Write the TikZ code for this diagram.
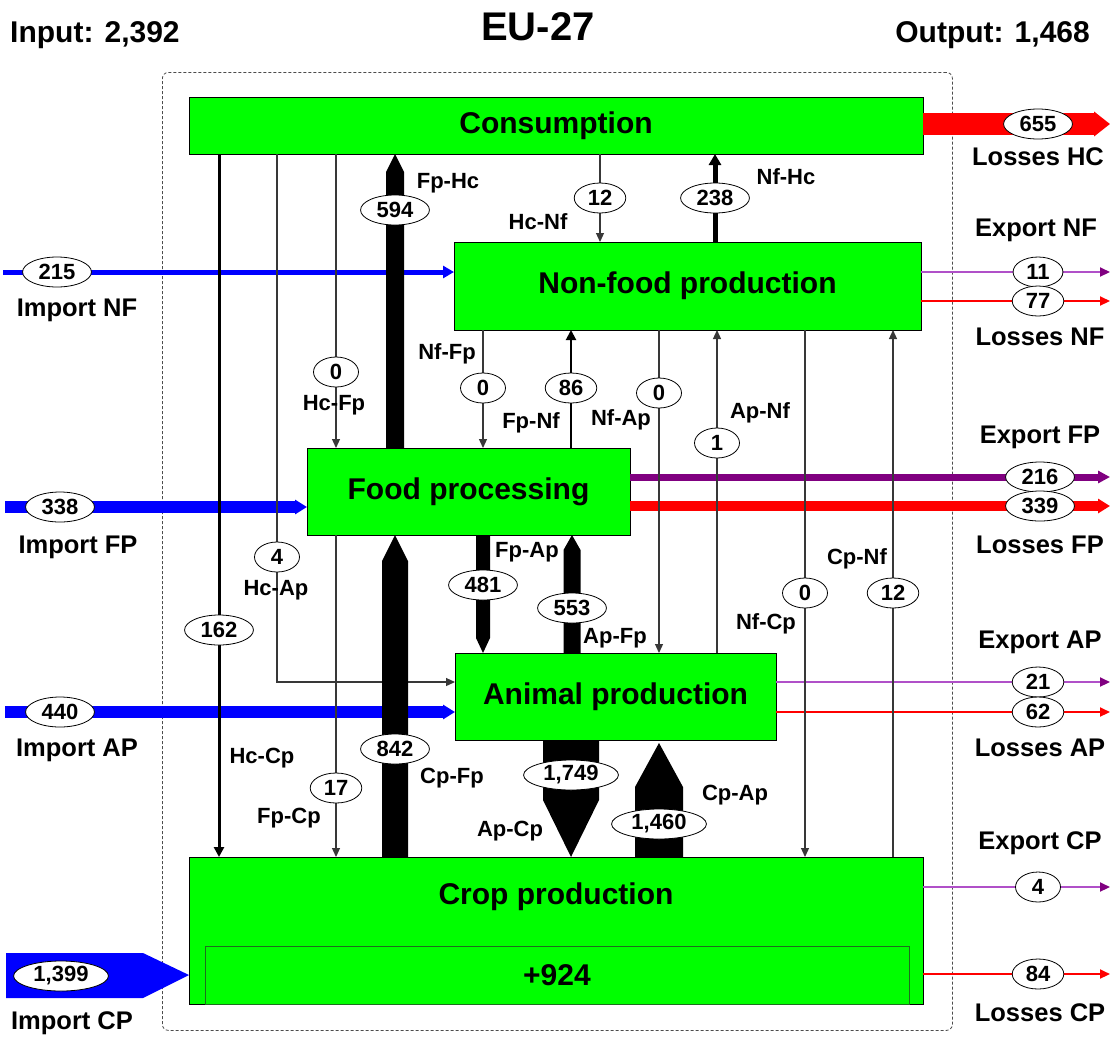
\documentclass[tikz,border=0pt]{standalone}
\usepackage{fontspec}
\setmainfont{Liberation Sans}
\usetikzlibrary{arrows.meta,shapes.geometric,calc}
\definecolor{boxgreen}{HTML}{00FF00}
\definecolor{flowblue}{HTML}{0000FF}
\definecolor{flowred}{HTML}{FF0000}
\definecolor{lightpurple}{HTML}{B050C8}
\definecolor{darkpurple}{HTML}{800080}
\definecolor{linegray}{HTML}{383838}
\definecolor{innergreen}{HTML}{1E6E1E}
\begin{document}
\begin{tikzpicture}[x=1pt,y=-1pt,
  box/.style={draw=black, line width=1pt, fill=boxgreen, inner sep=0pt, outer sep=0pt, anchor=north west, font=\fontsize{30}{34}\selectfont\bfseries},
  boxtxt/.style={font=\fontsize{30}{34}\selectfont\bfseries, inner sep=0pt},
  val/.style={ellipse, draw=black, line width=0.8pt, fill=white, inner xsep=6pt, inner ysep=0pt, minimum height=30pt, minimum width=45pt, font=\fontsize{22}{25}\selectfont\bfseries},
  flowlab/.style={font=\fontsize{22}{25}\selectfont\bfseries, inner sep=0pt},
  sidelab/.style={font=\fontsize{25.5}{30}\selectfont\bfseries, inner sep=0pt},
  titlelab/.style={font=\fontsize{30}{34}\selectfont\bfseries, inner sep=0pt},
  thinflow/.style={draw=linegray, line width=1.2pt, -{Triangle[length=9pt,width=8pt]}},
  blackflow/.style={draw=black, -{Triangle[length=10pt,width=10pt]}},
  thinexport/.style={draw=lightpurple, line width=2pt, -{Triangle[length=10pt,width=9pt,color=darkpurple]}},
  thinloss/.style={draw=flowred, line width=2pt, -{Triangle[length=10pt,width=9pt]}},
  block/.style={fill=black}
]
\useasboundingbox (0,0) rectangle (1113,1037);

% titles
\node[titlelab, anchor=west] (input) at (10,35) {Input: 2,392};
\node[font=\fontsize{40}{44}\selectfont\bfseries, inner sep=0pt] (title) at (538,27) {EU-27};
\node[titlelab, anchor=east] (output) at (1090,35) {Output: 1,468};

% dashed frame
\node[draw=black!70, line width=0.8pt, dash pattern=on 3pt off 2pt, rounded corners=6pt,
      minimum width=790pt, minimum height=958pt, anchor=north west, inner sep=0pt] (frame) at (162,72) {};

% boxes
\node[box, minimum width=734pt, minimum height=57pt] (cons) at (189,97) {Consumption};
\node[box, minimum width=467pt, minimum height=88pt] (nonfood) at (454,242) {Non-food production};
\node[box, minimum width=323pt, minimum height=87pt] (foodp) at (307,448) {Food processing};
\node[box, minimum width=321pt, minimum height=87pt] (animal) at (455,653) {Animal production};
\node[box, minimum width=734pt, minimum height=147pt] (crop) at (189,857) {};
\node[box, draw=innergreen, line width=0.8pt, minimum width=704pt, minimum height=58pt] (gain) at (205,946) {+924};
\node[boxtxt] (cropT) at (556,897) {Crop production};

% imports
\coordinate (srcNF) at (3,272);
\coordinate (srcFP) at (5,507);
\coordinate (srcAP) at (5,712);
\coordinate (srcCP) at (6,975);
\draw[flowblue, line width=5pt, -{Triangle[length=11pt,width=12pt]}] (srcNF) -- (srcNF -| nonfood.west);
\draw[flowblue, line width=12pt, -{Triangle[length=12pt,width=14pt]}] (srcFP) -- (srcFP -| foodp.west);
\draw[flowblue, line width=12pt, -{Triangle[length=12pt,width=14pt]}] (srcAP) -- (srcAP -| animal.west);
\fill[flowblue] ($(srcCP)+(0,-22)$) -- ($(srcCP -| crop.west)+(-46,-22)$) -- (srcCP -| crop.west)
   -- ($(srcCP -| crop.west)+(-46,23)$) -- ($(srcCP)+(0,23)$) -- cycle;

% exports and losses
\coordinate (dstHC) at (1110,124);
\coordinate (dstENF) at (1110,272);
\coordinate (dstLNF) at (1110,301);
\coordinate (dstEFP) at (1110,477);
\coordinate (dstLFP) at (1110,506);
\coordinate (dstEAP) at (1110,682);
\coordinate (dstLAP) at (1110,712);
\coordinate (dstECP) at (1110,887);
\coordinate (dstLCP) at (1110,974);
\draw[flowred, line width=22pt, -{Triangle[length=16pt,width=24pt]}] (dstHC -| cons.east) -- (dstHC);
\draw[thinexport] (dstENF -| nonfood.east) -- (dstENF);
\draw[thinloss] (dstLNF -| nonfood.east) -- (dstLNF);
\draw[darkpurple, line width=7pt, -{Triangle[length=12pt,width=12pt]}] (dstEFP -| foodp.east) -- (dstEFP);
\draw[flowred, line width=10pt, -{Triangle[length=12pt,width=14pt]}] (dstLFP -| foodp.east) -- (dstLFP);
\draw[thinexport] (dstEAP -| animal.east) -- (dstEAP);
\draw[thinloss] (dstLAP -| animal.east) -- (dstLAP);
\draw[thinexport] (dstECP -| crop.east) -- (dstECP);
\draw[thinloss] (dstLCP -| crop.east) -- (dstLCP);

% internal thin flows
\coordinate (pHcCp) at (219,630);
\coordinate (pHcAp) at (277,557);
\coordinate (kHcAp) at (277,682);
\coordinate (pHcFp) at (336,372);
\coordinate (pFpCp) at (336,788);
\coordinate (pHcNf) at (600,198);
\coordinate (pNfHc) at (715,198);
\coordinate (pNfFp) at (483,388);
\coordinate (pFpNf) at (571,388);
\coordinate (pNfAp) at (659,393);
\coordinate (pApNf) at (717,443);
\coordinate (pNfCp) at (805,593);
\coordinate (pCpNf) at (893,593);
\draw[thinflow] (pHcAp |- cons.south) -- (kHcAp) -- (kHcAp -| animal.west);
\draw[blackflow, line width=3pt] (pHcCp |- cons.south) -- (pHcCp |- crop.north);
\draw[thinflow] (pHcFp |- cons.south) -- (pHcFp |- foodp.north);
\draw[thinflow] (pFpCp |- foodp.south) -- (pFpCp |- crop.north);
\draw[thinflow] (pHcNf |- cons.south) -- (pHcNf |- nonfood.north);
\draw[blackflow, line width=5pt, -{Triangle[length=11pt,width=12pt]}] (pNfHc |- nonfood.north) -- (pNfHc |- cons.south);
\draw[thinflow] (pNfFp |- nonfood.south) -- (pNfFp |- foodp.north);
\draw[blackflow, line width=2pt] (pFpNf |- foodp.north) -- (pFpNf |- nonfood.south);
\draw[thinflow] (pNfAp |- nonfood.south) -- (pNfAp |- animal.north);
\draw[thinflow] (pApNf |- animal.north) -- (pApNf |- nonfood.south);
\draw[thinflow] (pNfCp |- nonfood.south) -- (pNfCp |- crop.north);
\draw[thinflow] (pCpNf |- crop.north) -- (pCpNf |- nonfood.south);

% block flows
\coordinate (pFpHc) at (395,210);
\coordinate (pCpFp) at (395,749);
\coordinate (pFpAp) at (483,585);
\coordinate (pApFp) at (572,608);
\coordinate (pApCp) at (571,775);
\coordinate (pCpAp) at (659,824);
\fill[block] ($(pFpHc |- foodp.north)+(-9,0)$) -- ($(pFpHc |- cons.south)+(-9,18)$) -- (pFpHc |- cons.south)
   -- ($(pFpHc |- cons.south)+(9,18)$) -- ($(pFpHc |- foodp.north)+(9,0)$) -- cycle;
\fill[block] ($(pCpFp |- crop.north)+(-13,0)$) -- ($(pCpFp |- foodp.south)+(-13,26)$) -- (pCpFp |- foodp.south)
   -- ($(pCpFp |- foodp.south)+(13,26)$) -- ($(pCpFp |- crop.north)+(13,0)$) -- cycle;
\fill[block] ($(pFpAp |- foodp.south)+(-7,0)$) -- ($(pFpAp |- animal.north)+(-7,-15)$) -- (pFpAp |- animal.north)
   -- ($(pFpAp |- animal.north)+(7,-15)$) -- ($(pFpAp |- foodp.south)+(7,0)$) -- cycle;
\fill[block] ($(pApFp |- animal.north)+(-8.5,0)$) -- ($(pApFp |- foodp.south)+(-8.5,15)$) -- (pApFp |- foodp.south)
   -- ($(pApFp |- foodp.south)+(8.5,15)$) -- ($(pApFp |- animal.north)+(8.5,0)$) -- cycle;
\fill[block] ($(pApCp |- animal.south)+(-28,0)$) -- ($(pApCp |- crop.north)+(-28,-57)$) -- (pApCp |- crop.north)
   -- ($(pApCp |- crop.north)+(28,-57)$) -- ($(pApCp |- animal.south)+(28,0)$) -- cycle;
\fill[block] ($(pCpAp |- crop.north)+(-24,0)$) -- ($(pCpAp |- animal.south)+(-24,47)$) -- ($(pCpAp |- animal.south)+(0,3)$)
   -- ($(pCpAp |- animal.south)+(24,47)$) -- ($(pCpAp |- crop.north)+(24,0)$) -- cycle;

% value ovals
\node[val] (vImpNF) at (57,272) {215};
\node[val] (vImpFP) at (60,507) {338};
\node[val] (vImpAP) at (60,712) {440};
\node[val] (vImpCP) at (61,976) {1,399};
\node[val] (vLHC) at (1038,124) {655};
\node[val] (vENF) at (1038,272) {11};
\node[val] (vLNF) at (1038,301) {77};
\node[val] (vEFP) at (1040,477) {216};
\node[val] (vLFP) at (1040,506) {339};
\node[val] (vEAP) at (1038,682) {21};
\node[val] (vLAP) at (1038,712) {62};
\node[val] (vECP) at (1038,887) {4};
\node[val] (vLCP) at (1038,974) {84};
\node[val] (vHcCp) at (pHcCp) {162};
\node[val] (vHcAp) at (pHcAp) {4};
\node[val] (vHcFp) at (pHcFp) {0};
\node[val] (vFpCp) at (pFpCp) {17};
\node[val] (vHcNf) at (pHcNf) {12};
\node[val] (vNfHc) at (pNfHc) {238};
\node[val] (vNfFp) at (pNfFp) {0};
\node[val] (vFpNf) at (pFpNf) {86};
\node[val] (vNfAp) at (pNfAp) {0};
\node[val] (vApNf) at (pApNf) {1};
\node[val] (vNfCp) at (pNfCp) {0};
\node[val] (vCpNf) at (pCpNf) {12};
\node[val] (vFpHc) at (pFpHc) {594};
\node[val] (vCpFp) at (pCpFp) {842};
\node[val] (vFpAp) at (pFpAp) {481};
\node[val] (vApFp) at (pApFp) {553};
\node[val] (vApCp) at (pApCp) {1,749};
\node[val] (vCpAp) at (pCpAp) {1,460};

% flow labels
\node[flowlab] (lFpHc) at (448,183) {Fp-Hc};
\node[flowlab] (lHcNf) at (538,222) {Hc-Nf};
\node[flowlab] (lNfHc) at (786,177) {Nf-Hc};
\node[flowlab] (lHcFp) at (334,405) {Hc-Fp};
\node[flowlab] (lNfFp) at (447,354) {Nf-Fp};
\node[flowlab] (lFpNf) at (531,423) {Fp-Nf};
\node[flowlab] (lNfAp) at (621,420) {Nf-Ap};
\node[flowlab] (lApNf) at (760,413) {Ap-Nf};
\node[flowlab] (lHcAp) at (276,590) {Hc-Ap};
\node[flowlab] (lFpAp) at (527,552) {Fp-Ap};
\node[flowlab] (lApFp) at (615,638) {Ap-Fp};
\node[flowlab] (lCpNf) at (857,559) {Cp-Nf};
\node[flowlab] (lNfCp) at (766,624) {Nf-Cp};
\node[flowlab] (lHcCp) at (262,758) {Hc-Cp};
\node[flowlab] (lCpFp) at (452,778) {Cp-Fp};
\node[flowlab] (lCpAp) at (735,795) {Cp-Ap};
\node[flowlab] (lFpCp) at (289,818) {Fp-Cp};
\node[flowlab] (lApCp) at (510,831) {Ap-Cp};

% side labels
\node[sidelab] (lImpNF) at (77,310) {Import NF};
\node[sidelab] (lImpFP) at (78,547) {Import FP};
\node[sidelab] (lImpAP) at (77,750) {Import AP};
\node[sidelab] (lImpCP) at (72,1023) {Import CP};
\node[sidelab] (lLHC) at (1038,157) {Losses HC};
\node[sidelab] (lENF) at (1036,230) {Export NF};
\node[sidelab] (lLNF) at (1040,337) {Losses NF};
\node[sidelab] (lEFP) at (1040,437) {Export FP};
\node[sidelab] (lLFP) at (1040,545) {Losses FP};
\node[sidelab] (lEAP) at (1040,642) {Export AP};
\node[sidelab] (lLAP) at (1040,748) {Losses AP};
\node[sidelab] (lECP) at (1040,843) {Export CP};
\node[sidelab] (lLCP) at (1040,1013) {Losses CP};
\end{tikzpicture}
\end{document}
